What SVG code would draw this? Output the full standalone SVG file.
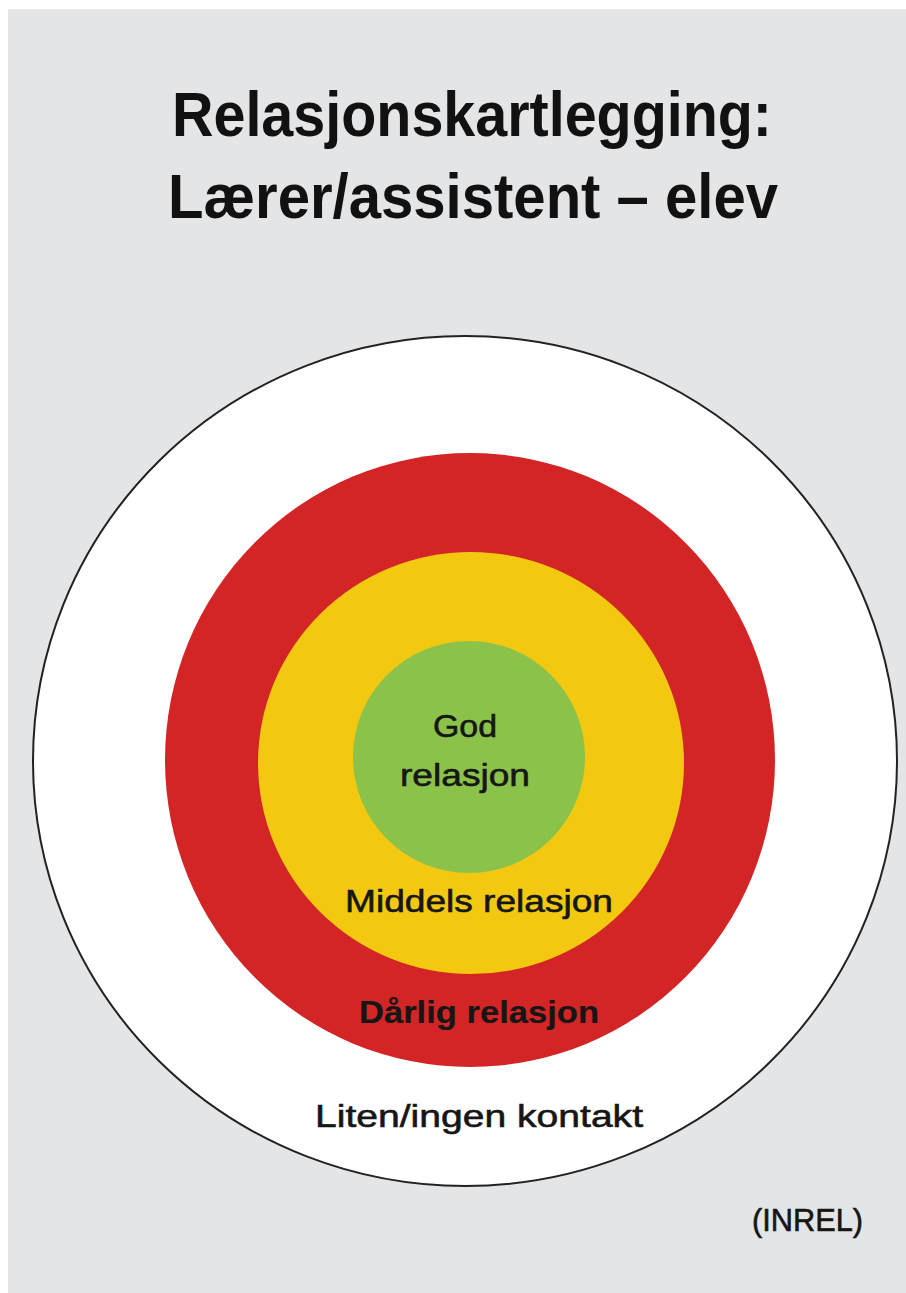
<svg xmlns="http://www.w3.org/2000/svg" width="906" height="1293" viewBox="0 0 906 1293">
  <style>
    .title { font-family: "Liberation Sans", Arial, sans-serif; font-weight: bold; font-size: 63px; fill: #111; }
    .lbl { font-family: "Liberation Sans", Arial, sans-serif; font-size: 32px; fill: #161616; stroke: #161616; stroke-width: 0.6px; }
    .bold { font-weight: bold; stroke-width: 0.2px; }
  </style>
  <rect x="0" y="0" width="906" height="1293" fill="#ffffff"/>
  <rect x="8" y="9" width="898" height="1284" fill="#e4e5e7"/>

  <g id="title">
    <text class="title" x="172" y="136" textLength="600" lengthAdjust="spacingAndGlyphs">Relasjonskartlegging:</text>
    <text class="title" x="168" y="218" textLength="610" lengthAdjust="spacingAndGlyphs">Lærer/assistent – elev</text>
  </g>

  <g id="ring-liten">
    <ellipse cx="465" cy="761" rx="432" ry="425" fill="#ffffff" stroke="#222" stroke-width="2"/>
    <text class="lbl" x="315" y="1127" textLength="328" lengthAdjust="spacingAndGlyphs">Liten/ingen kontakt</text>
  </g>
  <g id="ring-darlig">
    <ellipse cx="470" cy="760" rx="305" ry="307" fill="#d32526"/>
    <text class="lbl bold" x="359" y="1023" textLength="240" lengthAdjust="spacingAndGlyphs" fill="#1a0a0a">Dårlig relasjon</text>
  </g>
  <g id="ring-middels">
    <ellipse cx="471" cy="763" rx="213" ry="211" fill="#f2c811"/>
    <text class="lbl" x="345" y="912" textLength="268" lengthAdjust="spacingAndGlyphs">Middels relasjon</text>
  </g>
  <g id="ring-god">
    <circle cx="469" cy="757" r="116" fill="#8bc34a"/>
    <text class="lbl" x="433" y="737" textLength="64" lengthAdjust="spacingAndGlyphs">God</text>
    <text class="lbl" x="400" y="786" textLength="130" lengthAdjust="spacingAndGlyphs">relasjon</text>
  </g>

  <g id="source">
    <text class="lbl" x="752" y="1231" textLength="111" lengthAdjust="spacingAndGlyphs">(INREL)</text>
  </g>
</svg>
